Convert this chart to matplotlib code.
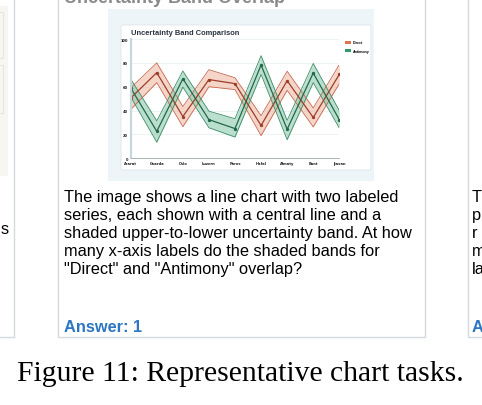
import matplotlib
matplotlib.use("Agg")
import matplotlib.pyplot as plt
from matplotlib.patches import Rectangle, FancyBboxPatch

# ---- datos del grafico interno ----
ciudades = ["Ararat", "Guarda", "Oslo", "Luzern", "Paros", "Hafal", "Almaty", "Bant", "Jiaxan"]
direct = [50.5, 71.8, 35.0, 66.0, 62.6, 27.5, 65.0, 34.2, 70.3]
direct_sup = [59.0, 80.0, 43.4, 74.3, 67.5, 35.7, 73.0, 42.2, 78.5]
direct_inf = [41.0, 63.4, 26.5, 60.0, 57.6, 19.0, 57.0, 26.3, 62.6]
antimony = [59.0, 22.6, 66.7, 32.4, 24.9, 78.2, 24.3, 71.5, 32.4]
antimony_sup = [66.5, 31.4, 73.2, 39.5, 33.2, 86.0, 31.8, 79.5, 40.0]
antimony_inf = [51.5, 13.5, 59.7, 25.6, 17.8, 70.3, 15.6, 63.4, 25.4]
y_ticks = [0, 20, 40, 60, 80, 100]

# ---- textos ----
titulo_tarjeta = "Uncertainty Band Overlap"
titulo_grafico = "Uncertainty Band Comparison"
pregunta = [
    "The image shows a line chart with two labeled",
    "series, each shown with a central line and a",
    "shaded upper-to-lower uncertainty band. At how",
    "many x-axis labels do the shaded bands for",
    "\"Direct\" and \"Antimony\" overlap?",
]
respuesta = "Answer: 1"
pie = "Figure 11: Representative chart tasks."

W, H = 482, 406
fig = plt.figure(figsize=(W / 100, H / 100), dpi=100)
fondo = fig.add_axes([0, 0, 1, 1])
fondo.set_xlim(0, W)
fondo.set_ylim(H, 0)
fondo.axis("off")

borde = "#d6d9de"
sans = ["Liberation Sans", "DejaVu Sans"]

# tarjeta izquierda (cortada)
fondo.plot([14, 14], [0, 338], color=borde, lw=1)
fondo.plot([0, 14], [338, 338], color=borde, lw=1)
fondo.add_patch(Rectangle((0, 7), 8, 170, facecolor="#f7f7f1", edgecolor="none"))
fondo.add_patch(Rectangle((-2, 13), 5, 46, facecolor="none", edgecolor="#e6e6df", lw=0.8))
fondo.add_patch(Rectangle((-2, 66), 5, 48, facecolor="none", edgecolor="#e6e6df", lw=0.8))
fondo.text(1, 234, "s", fontsize=11.8, family=sans, va="baseline")

# tarjeta central
fondo.add_patch(Rectangle((57.5, -5), 367, 343, facecolor="white", edgecolor=borde, lw=1))
fondo.text(64, 3, titulo_tarjeta, fontsize=13, family=sans, weight="bold",
           color="#8a8a8a", va="baseline")

# imagen del grafico
fondo.add_patch(Rectangle((108, 10), 266, 172, facecolor="#eef5f9", edgecolor="none"))
fondo.add_patch(FancyBboxPatch((121, 26), 250, 145, boxstyle="round,pad=0,rounding_size=2",
                               facecolor="white", edgecolor="#dfe6ea", lw=0.6))

# pregunta y respuesta
for i, linea in enumerate(pregunta):
    fondo.text(64, 202 + i * 18, linea, fontsize=11.8, family=sans, va="baseline")
fondo.text(64, 332, respuesta, fontsize=11.8, family=sans, weight="bold",
           color="#2f76c2", va="baseline")

# tarjeta derecha (cortada)
fondo.add_patch(Rectangle((467.5, -5), 30, 343, facecolor="white", edgecolor=borde, lw=1))
for i, letra in enumerate(["T", "p", "r", "m", "la"]):
    fondo.text(472, 202 + i * 18, letra, fontsize=11.8, family=sans, va="baseline")
fondo.text(472, 332, "A", fontsize=11.8, family=sans, weight="bold",
           color="#2f76c2", va="baseline")

# pie de figura
fondo.text(240, 381, pie, fontsize=21.3, family=["Liberation Serif", "DejaVu Serif"],
           ha="center", va="baseline")

# ---- grafico interno ----
x0, x1, yt, yb = 130.7, 339.3, 40.0, 159.3
ax = fig.add_axes([x0 / W, 1 - yb / H, (x1 - x0) / W, (yb - yt) / H])
xs = list(range(len(ciudades)))

ax.fill_between(xs, direct_inf, direct_sup, color="#f0b9a6", alpha=0.6, lw=0)
ax.plot(xs, direct_sup, color="#c46a50", lw=0.6)
ax.plot(xs, direct_inf, color="#c46a50", lw=0.6)
ax.fill_between(xs, antimony_inf, antimony_sup, color="#8fcaae", alpha=0.6, lw=0)
ax.plot(xs, antimony_sup, color="#3f8c68", lw=0.6)
ax.plot(xs, antimony_inf, color="#3f8c68", lw=0.6)
ax.plot(xs, direct, color="#9c3f2a", lw=0.9, marker="o", ms=1.4)
ax.plot(xs, antimony, color="#23684a", lw=0.9, marker="o", ms=1.4)

ax.set_xlim(0, len(ciudades) - 1)
ax.set_ylim(0, 100)
ax.set_yticks(y_ticks)
ax.set_yticklabels([str(v) for v in y_ticks])
ax.set_xticks(xs)
ax.set_xticklabels(ciudades)
ax.tick_params(axis="both", length=0, labelsize=2.6, colors="#222222", pad=2)
for t in ax.get_xticklabels() + ax.get_yticklabels():
    t.set_fontweight("bold")
ax.grid(axis="y", color="#e6edf1", lw=0.5)
ax.set_axisbelow(True)
for lado in ["top", "right"]:
    ax.spines[lado].set_visible(False)
ax.spines["left"].set_color("#c5d8dc")
ax.spines["left"].set_linewidth(1.6)
ax.spines["bottom"].set_color("#8a959c")
ax.spines["bottom"].set_linewidth(0.5)
ax.patch.set_alpha(0)

fondo.text(131, 35, titulo_grafico, fontsize=5.4, family=sans, weight="bold",
           color="#2b3440", va="baseline")

# leyenda
fondo.add_patch(Rectangle((345, 41.5), 5.5, 3, facecolor="#e2734f", edgecolor="none"))
fondo.text(353, 44.5, "Direct", fontsize=2.6, weight="bold", family=sans, va="baseline")
fondo.add_patch(Rectangle((345, 49.5), 5.5, 3, facecolor="#2f9a6c", edgecolor="none"))
fondo.text(353, 52.5, "Antimony", fontsize=2.6, weight="bold", family=sans, va="baseline")

fig.savefig("out.png", dpi=100)
